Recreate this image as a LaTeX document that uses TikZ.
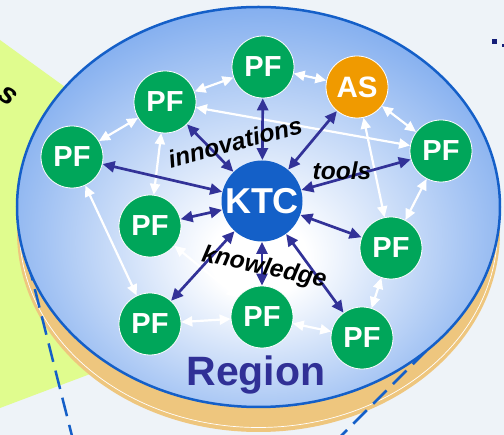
\documentclass[tikz,border=0pt]{standalone}
\usepackage{fontspec}
\setmainfont{Liberation Sans}
\usetikzlibrary{arrows.meta}
\definecolor{bg}{RGB}{238,243,248}
\definecolor{yel}{RGB}{224,252,142}
\definecolor{discblue}{RGB}{106,158,236}
\definecolor{rimblue}{RGB}{20,95,200}
\definecolor{tanrim}{RGB}{238,198,126}
\definecolor{pfgreen}{RGB}{0,166,90}
\definecolor{asorange}{RGB}{240,154,0}
\definecolor{ktcblue}{RGB}{20,96,200}
\definecolor{linkblue}{RGB}{50,50,152}
\definecolor{regionblue}{RGB}{48,48,150}
\definecolor{navy}{RGB}{20,30,120}
\pgfdeclareradialshading{discshade}{\pgfpoint{0bp}{-7bp}}{color(0bp)=(white); color(5bp)=(white); color(33bp)=(discblue); color(50bp)=(discblue)}
\tikzset{
  circ/.style={circle, draw=white, line width=0.8pt, inner sep=0pt, text=white},
  pf/.style={circ, fill=pfgreen, minimum size=62pt, font=\fontsize{29}{29}\selectfont\bfseries},
  asn/.style={circ, fill=asorange, minimum size=62pt, font=\fontsize{29.5}{29.5}\selectfont\bfseries},
  ktc/.style={circ, fill=ktcblue, draw=none, minimum size=81pt, font=\fontsize{36}{36}\selectfont\bfseries},
  bl/.style={draw=linkblue, line width=2.7pt, {Triangle[length=12pt,width=11pt]}-{Triangle[length=12pt,width=11pt]}},
  wl/.style={draw=white, line width=2.2pt, {Triangle[length=11pt,width=10pt]}-{Triangle[length=11pt,width=10pt]}},
  lbl/.style={text=black, font=\fontsize{24.5}{24.5}\selectfont\bfseries\itshape, inner sep=0pt},
  dsh/.style={draw=rimblue, line width=2.5pt, dash pattern=on 19pt off 9pt}
}
\begin{document}
\begin{tikzpicture}[x=1pt,y=-1pt]
\useasboundingbox (0,0) rectangle (504,435);
\fill[bg] (0,0) rectangle (504,435);
% yellow panel
\fill[yel] (0,40) -- (260,228) -- (260,310) -- (0,408) -- cycle;
\node[text=black, font=\fontsize{30}{30}\selectfont\bfseries\itshape, rotate=-35, inner sep=0pt] (s) at (8,96) {s};
% top right fragments
\fill[navy] (491.5,39.5) rectangle (496.5,44.5);
\fill[navy] (501.5,44) rectangle (504,47);
% cylinder rim
\fill[tanrim] (258.5,232) ellipse [x radius=241.5, y radius=200];
\draw[white, line width=0.7pt] (258.5,230) ellipse [x radius=239, y radius=197.5];
% dashed lines
\coordinate (dl1) at (28,262);
\coordinate (dl2) at (73,440);
\coordinate (dr1) at (446,331);
\coordinate (dr2) at (337,440);
\draw[dsh] (dl1) -- (dl2);
\draw[dsh] (dr1) -- (dr2);
% disc
\shade[shading=discshade] (258.5,207) ellipse [x radius=241.5, y radius=200];
\draw[rimblue, line width=2.5pt] (258.5,207) ellipse [x radius=241.5, y radius=200];
% nodes
\node[ktc] (ktc) at (262,201) {KTC};
\node[pf] (ptop) at (263,67) {PF};
\node[asn] (as) at (357,87) {AS};
\node[pf] (pul) at (165,102) {PF};
\node[pf] (pl) at (72,157) {PF};
\node[pf] (pr) at (441,151) {PF};
\node[pf] (pml) at (150,226) {PF};
\node[pf] (prl) at (391,248) {PF};
\node[pf] (pbl) at (150,324) {PF};
\node[pf] (pbm) at (262,317) {PF};
\node[pf] (pbr) at (362,338) {PF};
% white links
\draw[wl] (ptop) -- (pul);
\draw[wl] (ptop) -- (as);
\draw[wl] (as) -- (pr);
\draw[wl] (pul) -- (pl);
\draw[wl] (pul) -- (pml);
\draw[wl] (pul) -- (pr);
\draw[wl] (as) -- (prl);
\draw[wl] (pr) -- (prl);
\draw[wl] (pl) -- (pbl);
\draw[wl] (pml) -- (pbm);
\draw[wl] (pbl) -- (pbm);
\draw[wl] (pbm) -- (pbr);
\draw[wl] (pbr) -- (prl);
% blue links
\foreach \n in {ptop,as,pul,pl,pr,pml,prl,pbl,pbm,pbr}
  \draw[bl] (ktc) -- (\n);
% labels
\node[lbl, rotate=15] (innov) at (235,142) {innovations};
\node[lbl] (tools) at (342,171) {tools};
\node[lbl, rotate=-12] (know) at (264,268) {knowledge};
\node[text=regionblue, font=\fontsize{41}{41}\selectfont\bfseries, inner sep=0pt] (region) at (256,375) {Region};
\end{tikzpicture}
\end{document}
